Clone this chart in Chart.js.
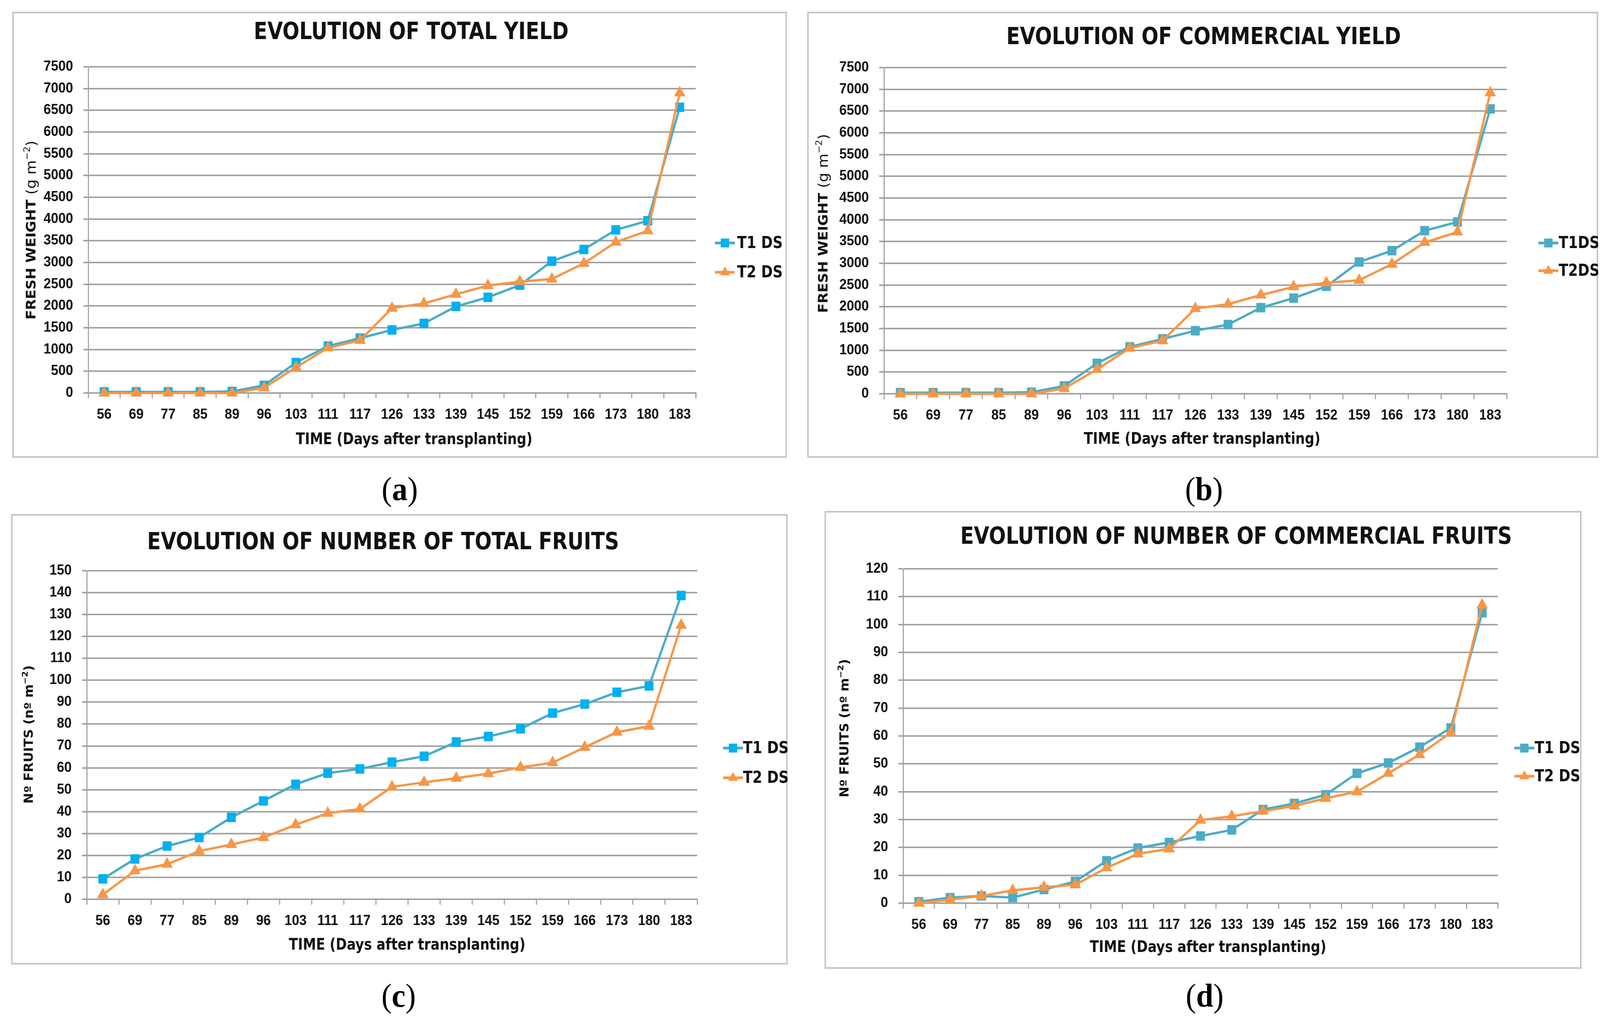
<!DOCTYPE html>
<html>
<head>
<meta charset="utf-8">
<script src="https://cdn.jsdelivr.net/npm/chart.js@4.4.0/dist/chart.umd.min.js"></script>
<style>
  body { margin: 0; background: #fff; overflow: hidden; }
  #page { position: absolute; left: 0; top: 0; width: 4335px; height: 2629px; transform-origin: 0 0; background: #fff; }
  .panel { position: absolute; }
  .cap { position: absolute; font-family: 'Liberation Serif', serif; font-size: 84px; line-height: 1; transform: translate(-50%, -50%); color: #000; }
  .cap b { font-weight: bold; }
</style>
</head>
<body>
<div id="page">
<div class="panel" style="left:33px;top:30px"><canvas id="chartA" width="2099" height="1142"></canvas></div>
<div class="panel" style="left:2187px;top:30px"><canvas id="chartB" width="2143" height="1142"></canvas></div>
<div class="panel" style="left:30px;top:1316px"><canvas id="chartC" width="2104" height="1153"></canvas></div>
<div class="panel" style="left:2234px;top:1308px"><canvas id="chartD" width="2051" height="1172"></canvas></div>
<div class="cap" style="left:1083px;top:1252px">(<b>a</b>)</div>
<div class="cap" style="left:3262px;top:1252px">(<b>b</b>)</div>
<div class="cap" style="left:1080px;top:2549px">(<b>c</b>)</div>
<div class="cap" style="left:3264px;top:2549px">(<b>d</b>)</div>
</div>
<script>
// days after transplanting
const days = ['56', '69', '77', '85', '89', '96', '103', '111', '117', '126', '133', '139', '145', '152', '159', '166', '173', '180', '183'];

// (a) total yield, g m-2
const totalYieldT1 = [25, 25, 25, 25, 35, 175, 700, 1080, 1260, 1450, 1600, 1990, 2200, 2480, 3030, 3300, 3750, 3960, 6570];
const totalYieldT2 = [0, 0, 0, 0, 0, 120, 590, 1040, 1210, 1950, 2060, 2270, 2470, 2560, 2620, 2980, 3470, 3730, 6900];
// (b) commercial yield, g m-2
const commYieldT1 = [25, 25, 25, 25, 35, 180, 700, 1080, 1260, 1450, 1590, 1980, 2200, 2470, 3030, 3290, 3750, 3950, 6550];
const commYieldT2 = [0, 0, 0, 0, 0, 120, 560, 1050, 1220, 1960, 2060, 2270, 2460, 2550, 2610, 2980, 3480, 3720, 6920];
// (c) number of total fruits, n m-2
const totalFruitsT1 = [9.3, 18.4, 24.3, 28.2, 37.4, 44.9, 52.5, 57.6, 59.5, 62.6, 65.3, 71.8, 74.3, 77.8, 85, 89.1, 94.5, 97.4, 138.7];
const totalFruitsT2 = [2.1, 13, 16, 22, 25, 28.2, 34, 39.3, 41.2, 51.3, 53.4, 55.3, 57.4, 60.2, 62.4, 69.4, 76.3, 79, 125.1];
// (d) number of commercial fruits, n m-2
const commFruitsT1 = [0.5, 2, 2.6, 2, 4.9, 7.8, 15.2, 19.8, 21.8, 24.1, 26.3, 33.6, 35.8, 38.9, 46.6, 50.3, 56, 62.9, 104.2];
const commFruitsT2 = [0, 1.3, 2.6, 4.6, 5.7, 6.6, 12.7, 17.7, 19.5, 29.8, 31.2, 33, 34.9, 37.6, 40, 46.6, 53.3, 61.2, 107];

// y ticks: [max, step]
const yieldTicks = [7500, 500];
const totalFruitTicks = [150, 10];
const commFruitTicks = [120, 10];

const teal = '#4bacc6';
const sky = '#00b0f0';
const orange = '#f79646';
const grey = '#a3a3a3';
const narrow = "'Liberation Sans Narrow', 'DejaVu Sans Condensed', sans-serif";
const plain = "'Liberation Sans', Arial, sans-serif";
const wide = "'DejaVu Sans', Verdana, sans-serif";

// stretch the 4335 x 2629 layout over the whole viewport
const page = document.getElementById('page');
const sx = window.innerWidth / 4335;
const sy = window.innerHeight / 2629;
if (Math.abs(sx - 1) > 0.002 || Math.abs(sy - 1) > 0.002) page.style.transform = 'scale(' + sx + ',' + sy + ')';

function drawMarker(ctx, style, x, y, r, color) {
    ctx.save();
    ctx.fillStyle = color;
    ctx.beginPath();
    if (style === 'rect') {
        const s = r * Math.SQRT1_2 + 1.5;
        ctx.rect(x - s, y - s, 2 * s, 2 * s);
    } else {
        ctx.moveTo(x, y - r - 1);
        ctx.lineTo(x + r * 0.95, y + r * 0.55);
        ctx.lineTo(x - r * 0.95, y + r * 0.55);
        ctx.closePath();
    }
    ctx.fill();
    ctx.restore();
}

// title, axis titles, legend and frame of each panel
const panelText = {
    id: 'panelText',
    beforeDraw(chart, args, o) {
        const ctx = chart.ctx;
        ctx.save();
        ctx.strokeStyle = '#c4c4c4';
        ctx.lineWidth = 4;
        ctx.strokeRect(2, 2, chart.width - 4, chart.height - 4);
        ctx.restore();
    },
    afterDraw(chart, args, o) {
        const ctx = chart.ctx;
        ctx.save();
        ctx.fillStyle = '#111';
        ctx.textAlign = 'center';
        ctx.textBaseline = 'middle';
        ctx.font = 'bold 60px ' + narrow;
        ctx.fillText(o.title, o.titleAt[0], o.titleAt[1]);
        ctx.font = 'bold 40px ' + narrow;
        ctx.fillText('TIME (Days after transplanting)', o.xTitleAt[0], o.xTitleAt[1]);

        // rotated y title made of pieces: [text, font, raise]
        ctx.save();
        ctx.translate(o.yTitleAt[0], o.yTitleAt[1]);
        ctx.rotate(-Math.PI / 2);
        ctx.textAlign = 'left';
        let total = 0;
        o.yTitle.forEach(p => { ctx.font = p[1]; total += ctx.measureText(p[0]).width; });
        let cx = -total / 2;
        o.yTitle.forEach(p => {
            ctx.font = p[1];
            ctx.fillText(p[0], cx, -p[2]);
            cx += ctx.measureText(p[0]).width;
        });
        ctx.restore();

        // legend
        chart.data.datasets.forEach((ds, i) => {
            const y = o.legendY[i];
            ctx.strokeStyle = ds.borderColor;
            ctx.lineWidth = 7;
            ctx.beginPath();
            ctx.moveTo(o.legendX - 27, y);
            ctx.lineTo(o.legendX + 27, y);
            ctx.stroke();
            drawMarker(ctx, ds.pointStyle, o.legendX, y, 14, ds.pointBackgroundColor);
            ctx.fillStyle = '#111';
            ctx.textAlign = 'left';
            ctx.font = 'bold 42px ' + narrow;
            ctx.fillText(ds.label, o.legendTextX, y + 2);
        });
        ctx.restore();
    }
};

function makeChart(id, p) {
    const canvas = document.getElementById(id);
    const W = canvas.width, H = canvas.height;
    const xh = 100;
    return new Chart(canvas, {
        type: 'line',
        data: {
            labels: days,
            datasets: [
                { label: p.names[0], data: p.t1, borderColor: teal, backgroundColor: p.t1Marker,
                  pointBackgroundColor: p.t1Marker, pointBorderColor: p.t1Marker, pointStyle: 'rect',
                  pointRadius: 15, pointBorderWidth: 3, borderWidth: 6, tension: 0, clip: false, order: 1 },
                { label: p.names[1], data: p.t2, borderColor: orange, backgroundColor: orange,
                  pointBackgroundColor: orange, pointBorderColor: orange, pointStyle: 'triangle',
                  pointRadius: 16, pointBorderWidth: 2, borderWidth: 6, tension: 0, clip: false, order: 0 }
            ]
        },
        options: {
            responsive: false,
            animation: false,
            layout: { padding: { left: 0, top: p.plot[1], right: W - p.plot[2], bottom: H - p.plot[3] - xh } },
            plugins: { legend: { display: false }, title: { display: false }, tooltip: { enabled: false }, panelText: p },
            scales: {
                x: {
                    offset: true,
                    grid: { display: true, offset: true, drawOnChartArea: false, drawTicks: true, tickLength: 14, color: grey, lineWidth: 3 },
                    border: { color: grey, width: 4 },
                    ticks: { font: { family: plain, size: 36, weight: 'bold' }, color: '#111', padding: 20, maxRotation: 0, autoSkip: false },
                    afterFit(s) { s.height = xh; }
                },
                y: {
                    min: 0,
                    max: p.ticks[0],
                    ticks: { stepSize: p.ticks[1], format: { useGrouping: false }, font: { family: plain, size: 36, weight: 'bold' }, color: '#111', padding: 28 },
                    grid: { color: grey, lineWidth: 4, tickLength: 13 },
                    border: { color: grey, width: 3 },
                    afterFit(s) { s.width = p.plot[0]; }
                }
            }
        },
        plugins: [panelText]
    });
}

const yieldTitle = [['FRESH WEIGHT ', 'bold 36px ' + wide, 0], ['(g m', '38px ' + wide, 0], ['\u22122', '24px ' + wide, 12], [')', '38px ' + wide, 0]];
const fruitTitle = [['N\u00ba FRUITS (n\u00ba m', 'bold 33px ' + wide, 0], ['\u22122', 'bold 22px ' + wide, 11], [')', 'bold 33px ' + wide, 0]];

makeChart('chartA', {
    t1: totalYieldT1, t2: totalYieldT2, names: ['T1 DS', 'T2 DS'], t1Marker: sky, ticks: yieldTicks,
    plot: [206, 141, 1852, 976], title: 'EVOLUTION OF TOTAL YIELD', titleAt: [1081, 54],
    xTitleAt: [1089, 1097], yTitle: yieldTitle, yTitleAt: [54, 559],
    legendX: 1931, legendTextX: 1964, legendY: [592, 667]
});
makeChart('chartB', {
    t1: commYieldT1, t2: commYieldT2, names: ['T1DS', 'T2DS'], t1Marker: teal, ticks: yieldTicks,
    plot: [208, 143, 1895, 978], title: 'EVOLUTION OF COMMERCIAL YIELD', titleAt: [1074, 67],
    xTitleAt: [1070, 1096], yTitle: yieldTitle, yTitleAt: [46, 542],
    legendX: 2008, legendTextX: 2036, legendY: [592, 663]
});
makeChart('chartC', {
    t1: totalFruitsT1, t2: totalFruitsT2, names: ['T1 DS', 'T2 DS'], t1Marker: sky, ticks: totalFruitTicks,
    plot: [205, 145, 1859, 986], title: 'EVOLUTION OF NUMBER OF TOTAL FRUITS', titleAt: [1008, 74],
    xTitleAt: [1073, 1105], yTitle: fruitTitle, yTitleAt: [50, 564],
    legendX: 1956, legendTextX: 1983, legendY: [599, 675]
});
makeChart('chartD', {
    t1: commFruitsT1, t2: commFruitsT2, names: ['T1 DS', 'T2 DS'], t1Marker: teal, ticks: commFruitTicks,
    plot: [213, 148, 1824, 1004], title: 'EVOLUTION OF NUMBER OF COMMERCIAL FRUITS', titleAt: [1115, 68],
    xTitleAt: [1039, 1119], yTitle: fruitTitle, yTitleAt: [56, 556],
    legendX: 1896, legendTextX: 1924, legendY: [607, 679]
});
</script>
</body>
</html>
